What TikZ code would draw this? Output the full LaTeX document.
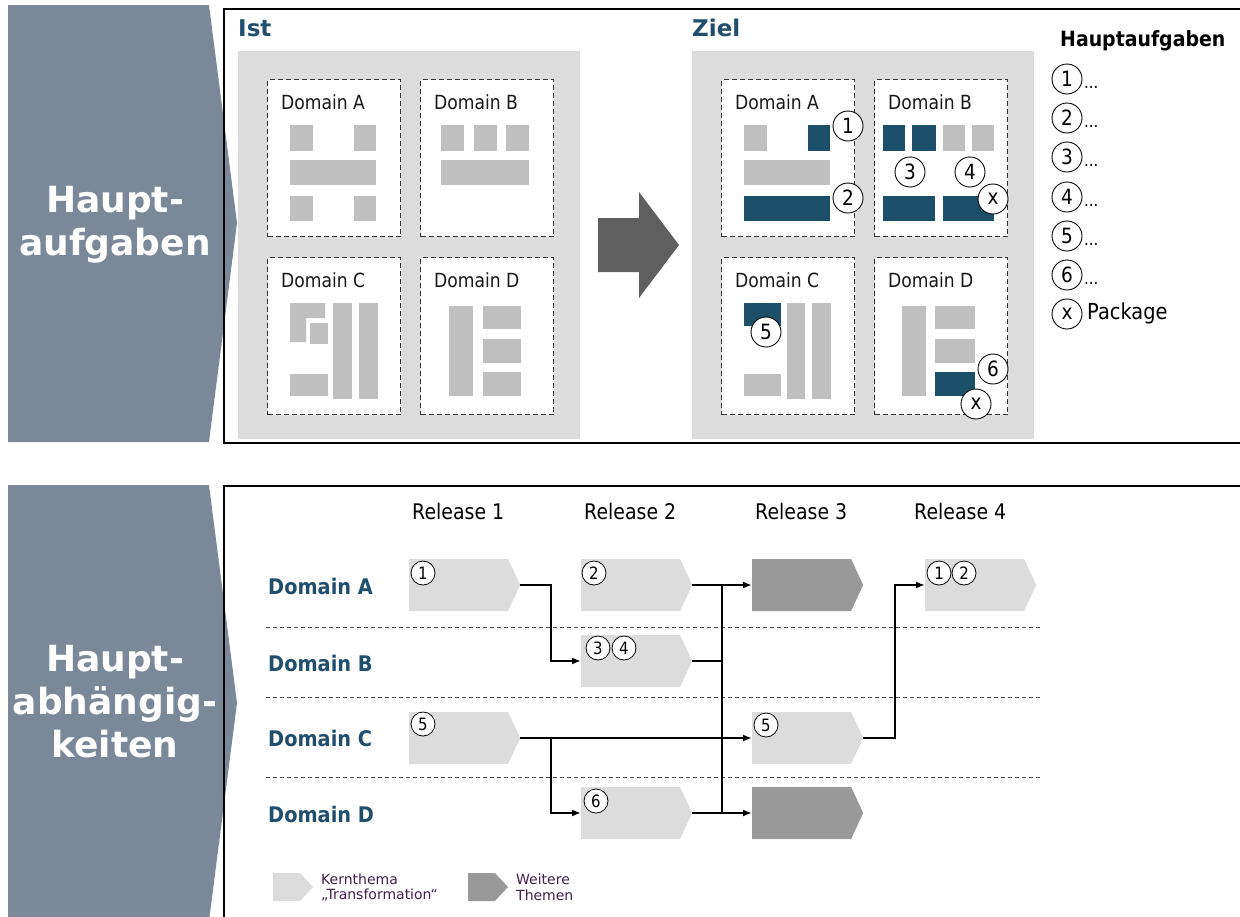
\documentclass[tikz,border=0pt]{standalone}
\usepackage{fontspec}
\setmainfont{DejaVu Sans}
\newfontfamily\reg{DejaVu Sans}[FakeStretch=0.88]
\newfontfamily\bnd{DejaVu Sans}[FakeStretch=0.9]
\usetikzlibrary{arrows.meta,shapes.symbols}
\newcommand{\fsz}[1]{\fontsize{#1}{#1}\selectfont}
\definecolor{bannergray}{HTML}{7A8898}
\definecolor{panelgray}{HTML}{DCDCDC}
\definecolor{blockgray}{HTML}{BFBFBF}
\definecolor{navy}{HTML}{1B4F6A}
\definecolor{arrowgray}{HTML}{5F5F5F}
\definecolor{chevlight}{HTML}{DCDCDC}
\definecolor{chevdark}{HTML}{999999}
\definecolor{lblue}{HTML}{1F4E6E}
\definecolor{legtxt}{HTML}{40204A}
\tikzset{
  bannertxt/.style={text=white, align=center, font=\bfseries\fontsize{36}{43}\selectfont},
  frame/.style={draw=black, line width=1.8pt},
  paneltitle/.style={text=lblue, font=\bfseries\fsz{23}, inner sep=0pt},
  dbox/.style={draw=black!80, dashed, dash pattern=on 5pt off 3pt, line width=1.4pt, fill=white,
               minimum width=133pt, minimum height=157pt, anchor=north west, inner sep=0pt},
  dlabel/.style={font=\reg\fsz{19.5}, text=black!90, inner sep=0pt, anchor=west},
  numc/.style={circle, draw=black, line width=0.9pt, fill=white, minimum size=30pt, inner sep=0pt,
               font=\reg\fsz{21}},
  nums/.style={circle, draw=black, line width=0.8pt, fill=white, minimum size=24pt, inner sep=0pt,
               font=\reg\fsz{17}},
  rel/.style={font=\reg\fsz{21.5}, inner sep=0pt, anchor=west},
  dom/.style={font=\bnd\bfseries\fsz{21.5}, text=lblue, inner sep=0pt, anchor=west},
  chev/.style={signal, signal to=east, signal pointer angle=130, minimum width=111pt,
               minimum height=52pt, inner sep=0pt, anchor=west, draw=none},
  lchev/.style={chev, fill=chevlight},
  dchev/.style={chev, fill=chevdark},
  conn/.style={draw=black, line width=2.2pt},
  arr/.style={conn, -{Latex[length=9pt,width=7pt]}},
  sep/.style={draw=black!70, dashed, dash pattern=on 4pt off 3pt, line width=1pt},
  legt/.style={font=\fsz{14}, text=legtxt, inner sep=0pt, anchor=west}
}
\begin{document}
\begin{tikzpicture}[x=1pt,y=-1pt]
\useasboundingbox (0,0) rectangle (1240,916);
% banners
\fill[bannergray] (8,5) -- (209,5) -- (237,223) -- (209,442) -- (8,442) -- cycle;
\node[bannertxt] (ban1) at (115,225) {Haupt-\\aufgaben};
\fill[bannergray] (8,485) -- (209,485) -- (237,703) -- (209,921) -- (8,921) -- cycle;
\node[bannertxt] (ban2) at (115,702) {Haupt-\\abhängig-\\keiten};
% frames
\draw[frame] (224,9) rectangle (1262,443);
\draw[frame] (224,486) rectangle (1262,950);

% panels
\foreach \dx/\nm in {0/Ist,454/Ziel} {
  \begin{scope}[xshift=\dx pt]
    \node[paneltitle, anchor=west] (\nm-t) at (238,28) {\nm};
    \fill[panelgray] (238,51) rectangle (580,439);
    \node[dbox] (\nm-A) at (267,79) {};
    \node[dbox] (\nm-B) at (420,79) {};
    \node[dbox] (\nm-C) at (267,257) {};
    \node[dbox] (\nm-D) at (420,257) {};
    \node[dlabel] (\nm-la) at (281,102) {Domain A};
    \node[dlabel] (\nm-lb) at (434,102) {Domain B};
    \node[dlabel] (\nm-lc) at (281,280) {Domain C};
    \node[dlabel] (\nm-ld) at (434,280) {Domain D};
  \end{scope}
}

% Ist blocks
\fill[blockgray] (290,125) rectangle (313,151);
\fill[blockgray] (354,125) rectangle (376,151);
\fill[blockgray] (290,160) rectangle (376,185);
\fill[blockgray] (290,196) rectangle (313,221);
\fill[blockgray] (354,196) rectangle (376,221);
\fill[blockgray] (441,125) rectangle (464,151);
\fill[blockgray] (474,125) rectangle (497,151);
\fill[blockgray] (506,125) rectangle (529,151);
\fill[blockgray] (441,160) rectangle (529,185);
\fill[blockgray] (290,303) -- (325,303) -- (325,318) -- (306,318) -- (306,342) -- (290,342) -- cycle;
\fill[blockgray] (310,323) rectangle (328,344);
\fill[blockgray] (333,303) rectangle (352,399);
\fill[blockgray] (359,303) rectangle (378,399);
\fill[blockgray] (290,374) rectangle (328,396);
\fill[blockgray] (449,306) rectangle (473,396);
\fill[blockgray] (483,306) rectangle (521,329);
\fill[blockgray] (483,339) rectangle (521,363);
\fill[blockgray] (483,372) rectangle (521,396);

% big arrow
\fill[arrowgray] (598,218) -- (639,218) -- (639,192) -- (679,245) -- (639,298) -- (639,272) -- (598,272) -- cycle;

% Ziel blocks
\fill[blockgray] (744,125) rectangle (767,151);
\fill[navy] (808,125) rectangle (830,151);
\fill[blockgray] (744,160) rectangle (830,185);
\fill[navy] (744,196) rectangle (830,221);
\fill[navy] (883,125) rectangle (905,151);
\fill[navy] (912,125) rectangle (936,151);
\fill[blockgray] (943,125) rectangle (965,151);
\fill[blockgray] (972,125) rectangle (994,151);
\fill[navy] (883,196) rectangle (935,221);
\fill[navy] (943,196) rectangle (994,221);
\fill[navy] (744,303) rectangle (781,326);
\fill[blockgray] (787,303) rectangle (805,399);
\fill[blockgray] (812,303) rectangle (831,399);
\fill[blockgray] (744,374) rectangle (781,396);
\fill[blockgray] (902,306) rectangle (926,396);
\fill[blockgray] (935,306) rectangle (975,329);
\fill[blockgray] (935,339) rectangle (975,363);
\fill[navy] (935,372) rectangle (975,396);
% Ziel circles
\node[numc] (z1) at (848,126) {1};
\node[numc] (z2) at (848,198) {2};
\node[numc] (z3) at (910,172) {3};
\node[numc] (z4) at (970,172) {4};
\node[numc] (zxb) at (993,199) {x};
\node[numc] (z5) at (766,332) {5};
\node[numc] (z6) at (993,369) {6};
\node[numc] (zxd) at (976,404) {x};

% legend top
\node[font=\bnd\bfseries\fsz{21}, inner sep=0pt, anchor=west] (legt) at (1060,41) {Hauptaufgaben};
\foreach \i/\y in {1/79,2/118,3/157,4/197,5/236,6/275} {
  \node[numc] (lg\i) at (1067,\y) {\i};
  \node[font=\reg\fsz{17}, inner sep=0pt, anchor=base west] (ld\i) at (1084,\y+9) {...};
}
\node[numc] (lgx) at (1067,314) {x};
\node[font=\reg\fsz{22}, inner sep=0pt, anchor=west] (lpk) at (1087,313) {Package};

% bottom section
\node[rel] (r1) at (412,511) {Release 1};
\node[rel] (r2) at (584,511) {Release 2};
\node[rel] (r3) at (755,511) {Release 3};
\node[rel] (r4) at (914,511) {Release 4};
\node[dom] (dA) at (268,586) {Domain A};
\node[dom] (dB) at (268,663) {Domain B};
\node[dom] (dC) at (268,738) {Domain C};
\node[dom] (dD) at (268,814) {Domain D};

\coordinate (s1l) at (266,627); \coordinate (s1r) at (1040,627);
\coordinate (s2l) at (266,697); \coordinate (s2r) at (1040,697);
\coordinate (s3l) at (266,777); \coordinate (s3r) at (1040,777);
\draw[sep] (s1l) -- (s1r);
\draw[sep] (s2l) -- (s2r);
\draw[sep] (s3l) -- (s3r);

\node[lchev] (a1) at (409,585) {};
\node[lchev] (a2) at (581,585) {};
\node[lchev] (b2) at (581,661) {};
\node[lchev] (c1) at (409,738) {};
\node[lchev] (d2) at (581,813) {};
\node[dchev] (a3) at (752,585) {};
\node[lchev] (c3) at (752,738) {};
\node[dchev] (d3) at (752,813) {};
\node[lchev] (a4) at (925,585) {};

\node[nums] (n1) at (423,573) {1};
\node[nums] (n2) at (594,573) {2};
\node[nums] (n3) at (598,648) {3};
\node[nums] (n4) at (624,648) {4};
\node[nums] (n5) at (423,724) {5};
\node[nums] (n6) at (596,801) {6};
\node[nums] (n5b) at (766,725) {5};
\node[nums] (n1b) at (939,573) {1};
\node[nums] (n2b) at (964,573) {2};

\coordinate (j1) at (551,0);
\coordinate (j2) at (722,0);
\coordinate (j3) at (895,0);
\draw[arr] (a1.east) -- (a1.east -| j1) -- (b2.west -| j1) -- (b2.west);
\draw[arr] (a2.east) -- (a3.west);
\draw[conn] (a2.east -| j2) -- (d2.east -| j2);
\draw[conn] (b2.east) -- (b2.east -| j2);
\draw[arr] (c1.east) -- (c3.west);
\draw[arr] (c1.east -| j1) -- (d2.west -| j1) -- (d2.west);
\draw[arr] (d2.east) -- (d3.west);
\draw[arr] (c3.east) -- (c3.east -| j3) -- (a4.west -| j3) -- (a4.west);

% bottom legend
\fill[chevlight] (273,873) -- (300,873) -- (313,887) -- (300,901) -- (273,901) -- cycle;
\node[legt] (lk1) at (321,879) {Kernthema};
\node[legt] (lk2) at (321,895) {„Transformation“};
\fill[chevdark] (468,873) -- (495,873) -- (508,887) -- (495,901) -- (468,901) -- cycle;
\node[legt] (lw1) at (516,879) {Weitere};
\node[legt] (lw2) at (516,895) {Themen};
\end{tikzpicture}
\end{document}
